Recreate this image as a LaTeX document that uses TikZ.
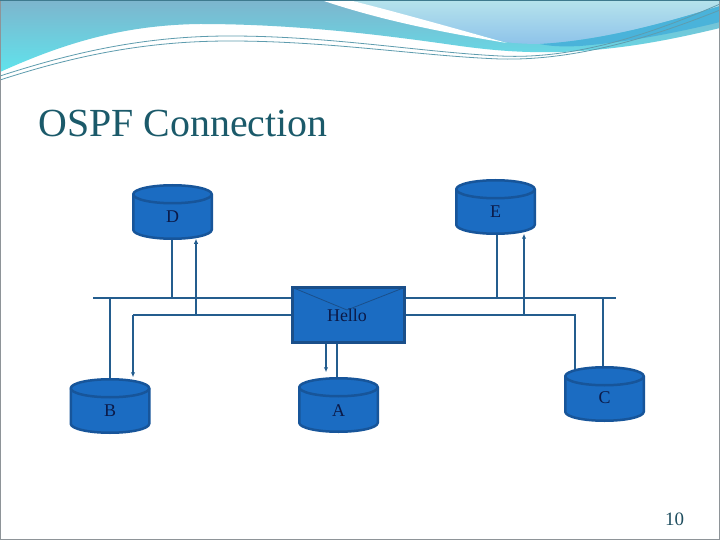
\documentclass[tikz,border=0pt]{standalone}
\usepackage{fontspec}
\setmainfont{Liberation Serif}
\usetikzlibrary{arrows.meta}
\pgfdeclarelayer{bg}
\pgfdeclarelayer{conn}
\pgfdeclarelayer{top}
\pgfsetlayers{bg,conn,main,top}
\definecolor{cylfill}{HTML}{1B6CC2}
\definecolor{cylline}{HTML}{17559A}
\definecolor{boxline}{HTML}{1A4F8A}
\definecolor{wire}{HTML}{245D8E}
\definecolor{labtext}{HTML}{0B1A48}
\definecolor{titlecol}{HTML}{1B5A6A}
\definecolor{pgcol}{HTML}{1F4E5F}
\definecolor{bandtop}{HTML}{7DB5CD}
\definecolor{bandbot}{HTML}{60E3EC}
\definecolor{paletop}{HTML}{B6E3EC}
\definecolor{palebot}{HTML}{8EC3EA}
\definecolor{darkband}{HTML}{4AB3DA}
\definecolor{swline}{HTML}{5E9CAE}
\definecolor{frame}{HTML}{8E9498}
\definecolor{topline}{HTML}{3E7A8E}
\newcommand\mycyl[1]{%
  \path[cylbody] ([xshift=-39.25bp,yshift=-9bp]#1.north)
    -- ([xshift=-39.25bp,yshift=9bp]#1.south)
    arc[start angle=180,end angle=360,x radius=39.25bp,y radius=9bp]
    -- ([xshift=39.25bp,yshift=-9bp]#1.north)
    arc[start angle=0,end angle=180,x radius=39.25bp,y radius=9bp] -- cycle;
  \draw[cylrim] ([xshift=-39.25bp,yshift=-9bp]#1.north)
    arc[start angle=180,end angle=360,x radius=39.25bp,y radius=9bp];}
\begin{document}
\begin{tikzpicture}[x=1bp,y=-1bp,
  router/.style={rectangle, draw=none, minimum width=78.5bp, minimum height=53.5bp,
    inner sep=0pt, outer sep=0pt},
  cylbody/.style={draw=cylline, fill=cylfill, line width=2.5bp, line join=round},
  cylrim/.style={draw=cylline, line width=2.5bp},
  lab/.style={font=\fontsize{18}{18}\selectfont, text=labtext, inner sep=0pt},
  envbox/.style={rectangle, draw=boxline, line width=3bp, fill=cylfill,
    minimum width=112bp, minimum height=55bp, inner sep=0pt, outer sep=0pt},
  thinw/.style={draw=wire, line width=1.2bp},
  arrw/.style={draw=wire, line width=2bp, -{Latex[length=5bp,width=4.5bp]}},
  flap/.style={draw=boxline, line width=0.8bp}]
\useasboundingbox (0,0) rectangle (720,540);

% background banner
\begin{pgfonlayer}{bg}
\fill[white] (0,0) rectangle (720,540);
\shade[top color=bandtop, bottom color=bandbot]
  (0,0) -- (720,0) -- (720,28)
  .. controls (670,40) and (620,50) .. (560,52)
  .. controls (520,53) and (490,50) .. (460,46)
  .. controls (390,36) and (300,24) .. (200,24)
  .. controls (120,25) and (60,45) .. (0,72) -- cycle;
\shade[top color=paletop, bottom color=palebot]
  (349,0) -- (720,0) -- (720,6)
  .. controls (680,18) and (610,40) .. (540,44)
  .. controls (525,44) and (512,43) .. (505,42)
  .. controls (460,30) and (400,14) .. (349,0) -- cycle;
\fill[darkband] (540,44) .. controls (610,40) and (680,18) .. (720,6)
  -- (720,22) .. controls (680,32) and (630,42) .. (580,46)
  .. controls (560,47) and (550,46) .. (540,44) -- cycle;
\fill[white] (321,0) .. controls (380,20) and (440,32) .. (507,43)
  .. controls (450,27) and (400,13) .. (349,0) -- cycle;
\draw[swline, line width=0.8bp] (0,76) .. controls (80,50) and (150,36) .. (230,36)
  .. controls (330,36) and (420,52) .. (500,56)
  .. controls (580,60) and (660,30) .. (720,4);
\draw[swline, line width=0.8bp] (0,80) .. controls (80,54) and (150,41) .. (230,41)
  .. controls (330,41) and (420,56) .. (500,59)
  .. controls (580,61) and (660,34) .. (720,10);
\draw[frame, line width=1bp] (0.5,0.5) rectangle (719.5,539.5);
\draw[topline, line width=1.5bp] (0,0.75) -- (720,0.75);
\end{pgfonlayer}

% title and page number
\node[anchor=base west, font=\fontsize{40}{40}\selectfont, text=titlecol] (title) at (35,137) {OSPF Connection};
\node[anchor=base, font=\fontsize{19}{19}\selectfont, text=pgcol] (pg) at (674.5,525) {10};

% routers
\node[router] (D) at (172.5,212) {};
\node[router] (E) at (495.5,207) {};
\node[router] (B) at (110,406) {};
\node[router] (A) at (338.5,405) {};
\node[router] (C) at (604.5,394) {};
\mycyl{D}\mycyl{E}\mycyl{B}\mycyl{A}\mycyl{C}
\node[lab] (Dl) at ([yshift=-5bp]D.center) {D};
\node[lab] (El) at ([yshift=-5bp]E.center) {E};
\node[lab] (Bl) at ([yshift=-5bp]B.center) {B};
\node[lab] (Al) at ([yshift=-6bp]A.center) {A};
\node[lab] (Cl) at ([yshift=-4bp]C.center) {C};

% hello envelope
\node[envbox] (H) at (348.5,315) {};
\draw[flap] (H.north west) -- (347,310) -- (H.north east);
\node[lab] (Htext) at (347,315) {Hello};

% bus coordinates
\coordinate (b1L) at (93,298);
\coordinate (b1R) at (616,298);
\coordinate (b2L) at (133,315);
\coordinate (b2R) at (575,315);
\coordinate (tD) at (172,298);
\coordinate (aD) at (196,315);
\coordinate (tE) at (497,298);
\coordinate (aE) at (524,315);
\coordinate (tB) at (110,298);
\coordinate (tC) at (603,298);

\begin{pgfonlayer}{conn}
\draw[thinw] (b1L) -- (b1R);
\draw[thinw] (b2L) -- (b2R) -- (b2R |- C.center);
\draw[thinw] (tD) -- (tD |- D.center);
\draw[thinw] (tE) -- (tE |- E.center);
\draw[thinw] (tB) -- (tB |- B.center);
\draw[thinw] (tC) -- (tC |- C.center);
\draw[thinw] ([xshift=-11.5bp]H.south) -- ([xshift=-11.5bp]H.south |- A.center);
\end{pgfonlayer}

\begin{pgfonlayer}{top}
\draw[arrw] (aD) -- (aD |- D.south);
\draw[arrw] (aE) -- (aE |- E.south);
\draw[arrw] (b2L) -- ([yshift=2bp]b2L |- B.north);
\draw[arrw] ([xshift=-22.5bp,yshift=-1.5bp]H.south) -- ([xshift=-22.5bp,yshift=6bp]H.south |- A.north);
\end{pgfonlayer}
\end{tikzpicture}
\end{document}
